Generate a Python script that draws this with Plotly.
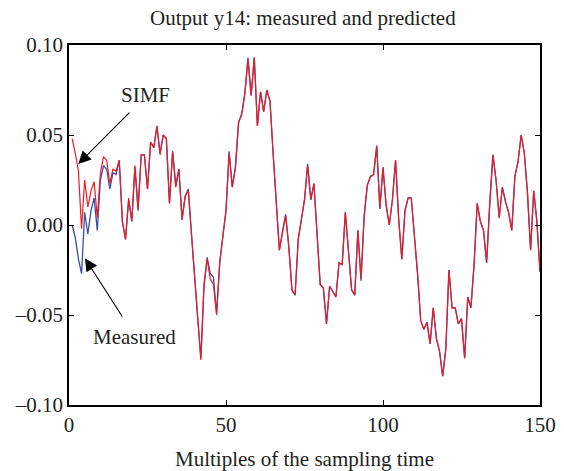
import plotly.graph_objects as go

samples = list(range(1, 151))

simf = [
    0.048, 0.040, 0.030, -0.002, 0.025, 0.010, 0.019, 0.024, 0.004, 0.029,
    0.038, 0.036, 0.023, 0.031, 0.030, 0.036, 0.002, -0.008, 0.015, 0.002,
    0.033, 0.009, 0.039, 0.039, 0.020, 0.046, 0.043, 0.055, 0.039, 0.050,
    0.048, 0.012, 0.041, 0.021, 0.031, 0.003, 0.016, 0.019, -0.005, -0.030,
    -0.052, -0.075, -0.034, -0.019, -0.030, -0.033, -0.050, -0.021, -0.006, 0.008,
    0.040, 0.021, 0.032, 0.057, 0.061, 0.073, 0.092, 0.072, 0.093, 0.055,
    0.074, 0.063, 0.075, 0.069, 0.040, 0.011, -0.014, -0.004, 0.005, -0.012,
    -0.036, -0.039, -0.008, 0.003, 0.014, 0.033, 0.014, 0.023, -0.008, -0.033,
    -0.035, -0.055, -0.034, -0.037, -0.040, -0.021, -0.022, 0.007, -0.015, -0.036,
    -0.039, -0.003, -0.030, 0.005, 0.022, 0.027, 0.028, 0.044, 0.009, 0.032,
    0.011, 0.000, 0.014, 0.036, 0.003, -0.019, 0.008, 0.015, 0.015, -0.004,
    -0.027, -0.053, -0.058, -0.054, -0.066, -0.046, -0.063, -0.070, -0.084, -0.069,
    -0.025, -0.046, -0.046, -0.055, -0.052, -0.074, -0.040, -0.046, -0.022, 0.012,
    0.002, -0.003, -0.021, 0.012, 0.039, 0.025, 0.004, 0.021, 0.013, 0.007,
    -0.003, 0.027, 0.035, 0.050, 0.040, 0.018, -0.014, 0.019, 0.002, -0.026,
]

measured = [
    0.000, -0.007, -0.019, -0.027, 0.007, -0.005, 0.008, 0.015, -0.003, 0.025,
    0.033, 0.031, 0.020, 0.029, 0.028, 0.036, 0.002, -0.008, 0.014, 0.002,
    0.032, 0.008, 0.039, 0.039, 0.020, 0.046, 0.043, 0.055, 0.040, 0.050,
    0.048, 0.012, 0.041, 0.022, 0.031, 0.003, 0.016, 0.020, -0.005, -0.030,
    -0.052, -0.074, -0.033, -0.018, -0.027, -0.029, -0.049, -0.021, -0.006, 0.008,
    0.041, 0.021, 0.032, 0.057, 0.062, 0.073, 0.093, 0.072, 0.093, 0.055,
    0.074, 0.063, 0.075, 0.069, 0.040, 0.011, -0.014, -0.004, 0.006, -0.012,
    -0.036, -0.039, -0.008, 0.003, 0.014, 0.034, 0.014, 0.023, -0.008, -0.033,
    -0.035, -0.055, -0.034, -0.037, -0.040, -0.021, -0.022, 0.007, -0.015, -0.036,
    -0.039, -0.003, -0.031, 0.005, 0.022, 0.027, 0.028, 0.044, 0.009, 0.032,
    0.011, 0.000, 0.014, 0.036, 0.003, -0.019, 0.008, 0.015, 0.015, -0.004,
    -0.027, -0.053, -0.058, -0.054, -0.066, -0.046, -0.063, -0.070, -0.084, -0.069,
    -0.025, -0.046, -0.046, -0.055, -0.052, -0.074, -0.040, -0.046, -0.022, 0.012,
    0.002, -0.003, -0.021, 0.012, 0.039, 0.025, 0.004, 0.021, 0.013, 0.007,
    -0.003, 0.027, 0.035, 0.050, 0.040, 0.018, -0.014, 0.019, 0.002, -0.026,
]

x_tick_vals = [0, 50, 100, 150]
x_tick_text = ["0", "50", "100", "150"]
y_tick_vals = [-0.10, -0.05, 0.0, 0.05, 0.10]
y_tick_text = ["\u20130.10", "\u20130.05", "0.00", "0.05", "0.10"]

FONT = "Liberation Serif, Times New Roman, serif"
INK = "#231f20"

fig = go.Figure()
fig.add_trace(go.Scatter(x=samples, y=measured, mode="lines", name="Measured",
                         line=dict(color="#3a4fa6", width=1.3)))
fig.add_trace(go.Scatter(x=samples, y=simf, mode="lines", name="SIMF",
                         line=dict(color="#ec1c24", width=1.2)))

fig.update_layout(
    width=564, height=471,
    margin=dict(l=69, r=24, t=45, b=66, autoexpand=False),
    paper_bgcolor="white", plot_bgcolor="white",
    showlegend=False,
    font=dict(family=FONT, size=21, color=INK),
    title=dict(text="Output y14: measured and predicted", x=0.537, xanchor="center",
               y=1 - 18 / 471, yanchor="middle", font=dict(family=FONT, size=21, color=INK)),
)

axis_common = dict(ticks="inside", ticklen=5, tickwidth=1, tickcolor="black",
                   showline=True, linecolor="black", linewidth=1.5, mirror="ticks",
                   showgrid=False, zeroline=False, automargin=False,
                   tickfont=dict(family=FONT, size=21, color=INK))

fig.update_xaxes(range=[0, 150], tickvals=x_tick_vals, ticktext=x_tick_text,
                 title=dict(text="Multiples of the sampling time", standoff=15,
                            font=dict(family=FONT, size=21, color=INK)),
                 **axis_common)
fig.update_yaxes(range=[-0.10, 0.10], tickvals=y_tick_vals, ticktext=y_tick_text,
                 **axis_common)

arrow_style = dict(showarrow=True, text="", arrowhead=2, arrowsize=2.3, arrowwidth=1.1,
                   arrowcolor="black", axref="x", ayref="y", xref="x", yref="y")
fig.add_annotation(x=2.95, y=0.0339, ax=19.7, ay=0.0633, **arrow_style)
fig.add_annotation(x=5.08, y=-0.0185, ax=17.3, ay=-0.0518, **arrow_style)
fig.add_annotation(x=24.3, y=0.0725, text="SIMF", showarrow=False,
                   font=dict(family=FONT, size=21, color=INK))
fig.add_annotation(x=20.8, y=-0.062, text="Measured", showarrow=False,
                   font=dict(family=FONT, size=21, color=INK))

fig.write_html("out.html", config={"displayModeBar": False},
               post_script="document.body.style.margin='0';document.body.style.padding='0';")
